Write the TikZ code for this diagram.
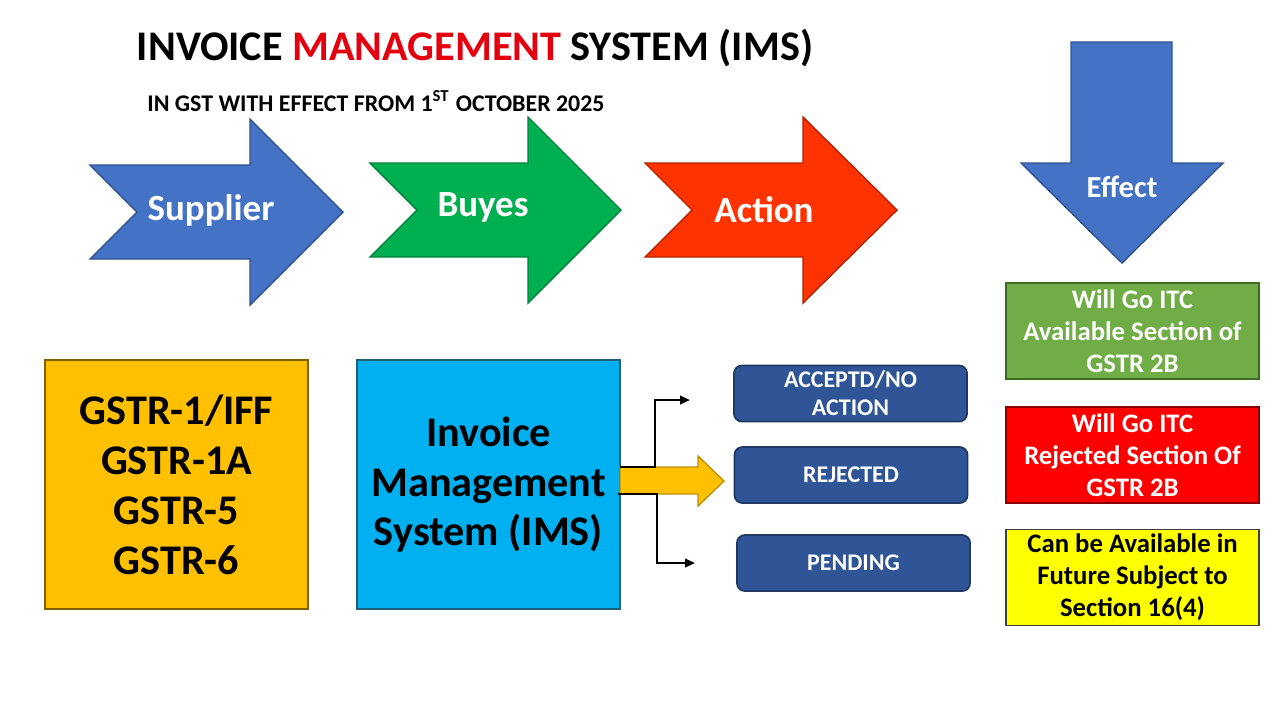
\documentclass[tikz,border=0pt]{standalone}
\usepackage{fontspec}
\setmainfont{Carlito}
\usetikzlibrary{arrows.meta}
\definecolor{supblue}{HTML}{4472C4}
\definecolor{supedge}{HTML}{2F528F}
\definecolor{buygreen}{HTML}{00B050}
\definecolor{buyedge}{HTML}{00843C}
\definecolor{actred}{HTML}{FF3300}
\definecolor{actedge}{HTML}{B32400}
\definecolor{gstrorange}{HTML}{FFC000}
\definecolor{gstredge}{HTML}{7F6000}
\definecolor{imsblue}{HTML}{00B0F0}
\definecolor{imsedge}{HTML}{1F5F7A}
\definecolor{statblue}{HTML}{2F5597}
\definecolor{statedge}{HTML}{203864}
\definecolor{availgreen}{HTML}{70AD47}
\definecolor{availedge}{HTML}{3D6B24}
\definecolor{rejred}{HTML}{FF0000}
\definecolor{rejedge}{HTML}{8B0000}
\definecolor{futyellow}{HTML}{FFFF00}
\definecolor{titlered}{HTML}{E3000F}
\definecolor{yarrow}{HTML}{FFC000}
\definecolor{yarrowedge}{HTML}{BF9000}

\begin{document}
\begin{tikzpicture}[x=0.01cm,y=-0.01cm,
  lbl/.style={text=white,font=\bfseries\fontsize{10.5}{12}\selectfont},
  bigbox/.style={draw,line width=0.5pt,minimum width=2.63cm,minimum height=2.49cm,
    inner sep=0pt,align=center,font=\bfseries\fontsize{12}{14.2}\selectfont},
  stat/.style={draw=statedge,fill=statblue,line width=0.5pt,rounded corners=0.08cm,
    minimum width=2.33cm,minimum height=0.56cm,inner sep=0pt,align=center,
    text=white,font=\bfseries\fontsize{6.8}{8}\selectfont},
  effbox/.style={draw,line width=0.5pt,minimum width=2.53cm,minimum height=0.96cm,
    inner sep=0pt,align=center,font=\bfseries\fontsize{7.6}{9.1}\selectfont},
  elbow/.style={line width=0.6pt,-{Triangle[length=2.8pt,width=2.4pt]}}]
\fill[white] (0,0) rectangle (1280,720);
\useasboundingbox (0,0) rectangle (1280,720);

% heading
\node[font=\bfseries\fontsize{12}{14}\selectfont] (title) at (475,48)
  {INVOICE {\color{titlered}MANAGEMENT} SYSTEM (IMS)};
\node[font=\bfseries\fontsize{6.8}{8}\selectfont] (sub) at (376,101)
  {IN GST WITH EFFECT FROM 1\textsuperscript{ST} OCTOBER 2025};

% top arrows
\draw[fill=supblue,draw=supedge,line width=0.4pt] (90,165) -- (250,165) -- (250,119) -- (343,212) -- (250,305) -- (250,259) -- (90,259) -- (137,212) -- cycle;
\draw[fill=buygreen,draw=buyedge,line width=0.4pt] (370,163) -- (528,163) -- (528,117) -- (621,210) -- (528,303) -- (528,257) -- (370,257) -- (417,210) -- cycle;
\draw[fill=actred,draw=actedge,line width=0.4pt] (645,163) -- (803,163) -- (803,117) -- (897,210) -- (803,303) -- (803,257) -- (645,257) -- (692,210) -- cycle;
\draw[fill=supblue,draw=supedge,line width=0.4pt] (1071,42) -- (1172,42) -- (1172,163) -- (1223,163) -- (1122,263) -- (1021,163) -- (1071,163) -- cycle;
\node[lbl] (supl) at (211,210) {Supplier};
\node[lbl] (buy) at (483,207) {Buyes};
\node[lbl] (act) at (764,210) {Action};
\node[lbl,font=\bfseries\fontsize{8.7}{10}\selectfont] (eff) at (1122,187) {Effect};

% main boxes
\node[bigbox,fill=gstrorange,draw=gstredge] (gstr) at (176.5,484.5) {GSTR-1/IFF\\GSTR-1A\\GSTR-5\\GSTR-6};
\node[bigbox,fill=imsblue,draw=imsedge] (ims) at (488.5,484.5) {Invoice\\Management\\System (IMS)};

% actions
\node[stat] (acc) at (850.5,393.5) {ACCEPTD/NO\\ACTION};
\node[stat] (rej) at (851,475) {REJECTED};
\node[stat] (pend) at (853.5,563) {PENDING};

% effects
\node[effbox,fill=availgreen,draw=availedge,text=white] (avail) at (1132.5,331) {Will Go ITC\\Available Section of\\GSTR 2B};
\node[effbox,fill=rejred,draw=rejedge,text=white] (rjsec) at (1132.5,455) {Will Go ITC\\Rejected Section Of\\GSTR 2B};
\node[effbox,fill=futyellow,draw=black!75] (future) at (1132.5,577.5) {Can be Available in\\Future Subject to\\Section 16(4)};

% yellow arrow and branches
\draw[fill=yarrow,draw=yarrowedge,line width=0.4pt] (620,467) -- (698,467) -- (698,456) -- (724,481) -- (698,506) -- (698,494) -- (620,494) -- cycle;
\coordinate (ytop) at (620,467);
\coordinate (ybot) at (618,494);
\coordinate (accend) at (690,400);
\coordinate (pendend) at (695,563);
\draw[elbow] (ytop) -- (655,467) |- (accend);
\draw[elbow] (ybot) -- (657,494) |- (pendend);
\end{tikzpicture}
\end{document}
